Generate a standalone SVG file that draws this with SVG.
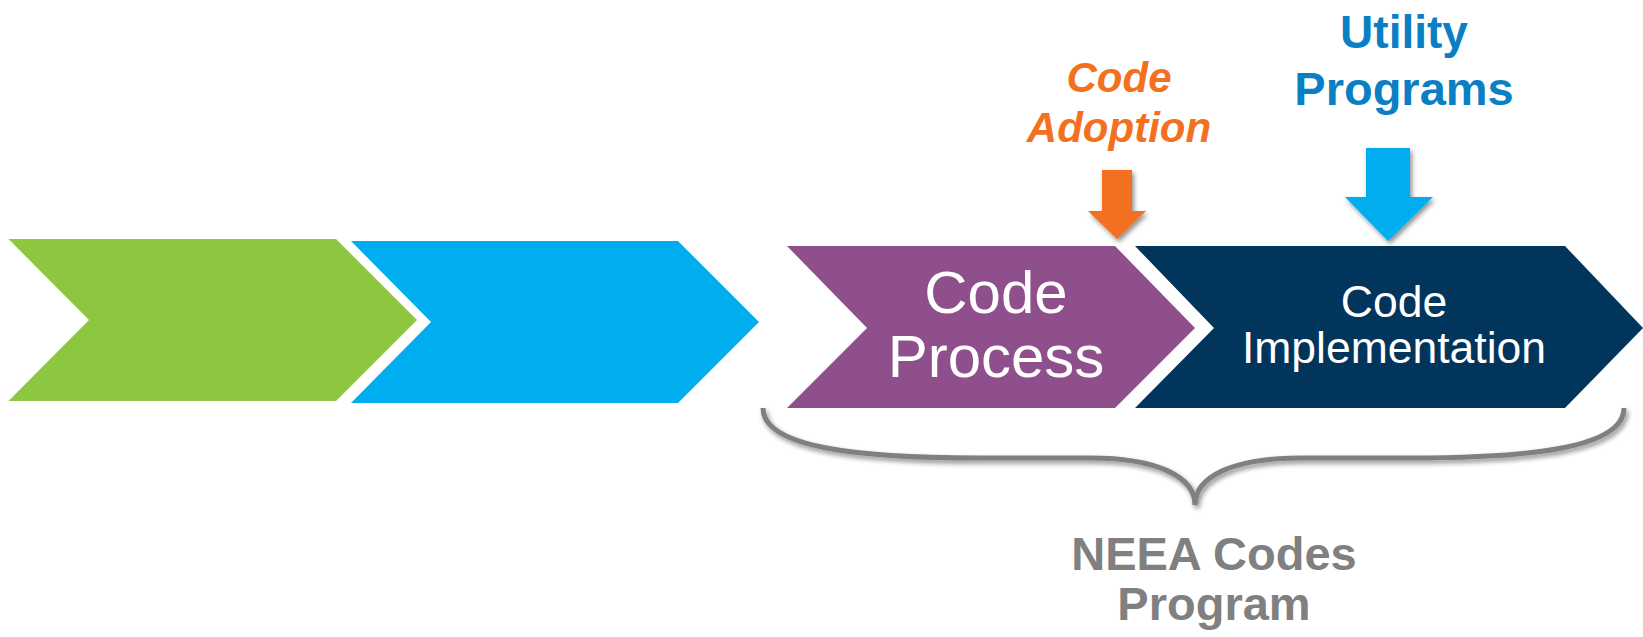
<svg xmlns="http://www.w3.org/2000/svg" width="1643" height="637" viewBox="0 0 1643 637">
<style>
.t{font-family:"Liberation Sans",Arial,sans-serif;text-anchor:middle}
.b{font-weight:bold}
.w{fill:#ffffff}
</style>
<defs>
<filter id="sh" x="-30%" y="-30%" width="160%" height="160%">
<feGaussianBlur in="SourceAlpha" stdDeviation="2.5"/>
<feOffset dx="2" dy="3" result="o"/>
<feComponentTransfer><feFuncA type="linear" slope="0.45"/></feComponentTransfer>
<feMerge><feMergeNode/><feMergeNode in="SourceGraphic"/></feMerge>
</filter>
</defs>
<rect width="1643" height="637" fill="#ffffff"/>
<g id="chevron-green"><polygon points="8.5,239 336,239 417,320 336,401 8.5,401 89,320" fill="#8dc63f"/></g>
<g id="chevron-blue"><polygon points="351,241 678,241 759,322 678,403 351,403 431,322" fill="#00aeef"/></g>
<g id="chevron-code-process">
<polygon points="787,246 1115,246 1195,328 1115,408 787,408 867,328" fill="#8e4f8c"/>
<text class="t w" x="996" y="313" font-size="60">Code</text>
<text class="t w" x="996" y="377" font-size="60">Process</text>
</g>
<g id="chevron-code-implementation">
<polygon points="1135,246 1565,246 1643,328 1565,408 1135,408 1214,328" fill="#02355b"/>
<text class="t w" x="1394" y="317" font-size="44.5">Code</text>
<text class="t w" x="1394" y="363" font-size="44.5">Implementation</text>
</g>
<g id="label-code-adoption">
<text class="t b" x="1119" y="92" font-size="42" font-style="italic" fill="#f37021">Code</text>
<text class="t b" x="1119" y="142" font-size="42" font-style="italic" fill="#f37021">Adoption</text>
</g>
<g id="label-utility-programs">
<text class="t b" x="1404" y="48" font-size="46" fill="#0b7fc4">Utility</text>
<text class="t b" x="1404" y="105" font-size="47" fill="#0b7fc4">Programs</text>
</g>
<g id="label-neea">
<text class="t b" x="1214" y="570" font-size="47" fill="#808080">NEEA Codes</text>
<text class="t b" x="1214" y="620" font-size="47" fill="#808080">Program</text>
</g>
<g id="connectors">
<polygon filter="url(#sh)" points="1102,170 1132,170 1132,211 1146,211 1117,239 1088,211 1102,211" fill="#f37021"/>
<polygon filter="url(#sh)" points="1366,148 1410,148 1410,197 1433,197 1388,241 1345,197 1366,197" fill="#00aeef"/>
<path id="brace" filter="url(#sh)" d="M763,408 C763,448 860,458 980,458 L1090,458 C1160,458 1195,478 1195,505 C1195,478 1230,458 1300,458 L1410,458 C1530,458 1624,448 1624,408" fill="none" stroke="#808080" stroke-width="5"/>
</g>
</svg>
